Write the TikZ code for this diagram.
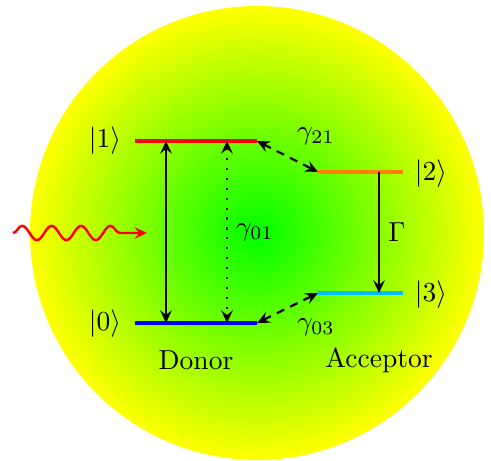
\documentclass[tikz,border=0pt]{standalone}
\usetikzlibrary{arrows.meta,decorations.pathmorphing}
\definecolor{lvlred}{RGB}{255,0,0}
\definecolor{lvlblue}{RGB}{0,0,255}
\definecolor{lvlorange}{RGB}{255,128,0}
\definecolor{lvlcyan}{RGB}{0,190,255}
\tikzset{
  tip/.tip={Stealth[length=4.6pt,width=4.2pt,inset=1.7pt]},
  levelline/.style={line width=1.5pt},
  transarrow/.style={thick},
  dotarrow/.style={thick,dash pattern=on 0.8pt off 2.8pt},
  dasharrow/.style={thick,dash pattern=on 3pt off 2.4pt},
  lbl/.style={inner sep=0pt}
}
\begin{document}
\begin{tikzpicture}[x=0.3636pt,y=-0.3636pt]
\useasboundingbox (0,0) rectangle (491,461);
\shade[inner color=green, outer color=yellow] (257,233) circle[radius=82.54pt];

% level end points
\coordinate (a1) at (135,141); \coordinate (b1) at (257,141);
\coordinate (a0) at (135,323); \coordinate (b0) at (257,323);
\coordinate (a2) at (318,172); \coordinate (b2) at (403,172);
\coordinate (a3) at (318,293); \coordinate (b3) at (403,293);

\draw[levelline,lvlred] (a1) -- (b1);
\draw[levelline,lvlblue] (a0) -- (b0);
\draw[levelline,lvlorange] (a2) -- (b2);
\draw[levelline,lvlcyan] (a3) -- (b3);

% state labels
\node[lbl] (k1) at (105,141) {$|1\rangle$};
\node[lbl] (k0) at (105,324) {$|0\rangle$};
\node[lbl] (k2) at (431,174) {$|2\rangle$};
\node[lbl] (k3) at (431,295) {$|3\rangle$};

% transitions
\coordinate (s1) at (166,141); \coordinate (s0) at (166,323);
\coordinate (d1) at (227,141); \coordinate (d0) at (227,323);
\coordinate (g2) at (379,172); \coordinate (g3) at (379,293);

\draw[transarrow,{tip}-{tip}] (s1) -- (s0);
\draw[dotarrow,{tip[sep=0pt]}-{tip}] (d1) -- (d0);
\draw[transarrow,-{tip}] (g2) -- (g3);
\draw[dasharrow,{tip}-{tip}] (b1) -- (a2);
\draw[dasharrow,{tip}-{tip}] (b0) -- (a3);

% rate labels
\node[lbl] (r01) at (255,232) {$\gamma_{01}$};
\node[lbl] (r21) at (316,136) {$\gamma_{21}$};
\node[lbl] (r03) at (316,327) {$\gamma_{03}$};
\node[lbl] (rG) at (397,232) {$\Gamma$};

% group labels
\node[lbl] (donor) at (196,360) {Donor};
\node[lbl] (acc) at (379,360) {Acceptor};

% incoming photon
\coordinate (w0) at (13,233);
\coordinate (w1) at (147,233);
\draw[red,line width=0.9pt,-{Stealth[length=4.5pt,width=4.2pt,inset=1.6pt]},decorate,
  decoration={snake,amplitude=2.6pt,segment length=10.7pt,post length=5pt}] (w0) -- (w1);
\end{tikzpicture}
\end{document}
